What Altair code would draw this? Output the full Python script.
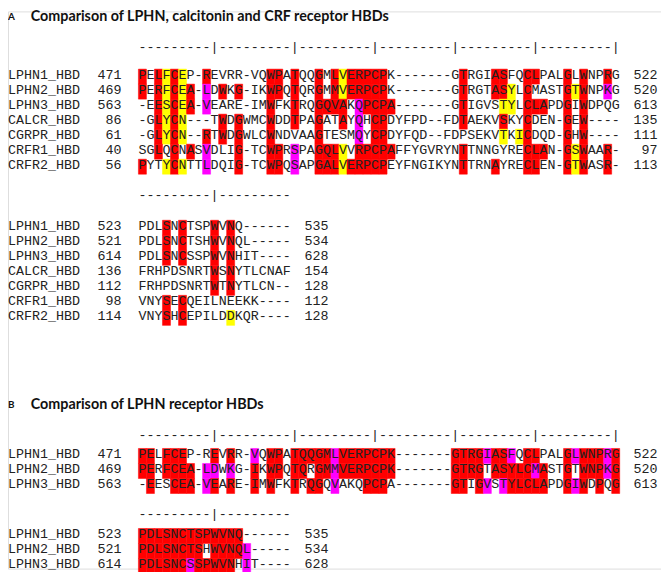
import altair as alt
import pandas as pd

# ---------------- data ----------------
names_all = ["LPHN1_HBD", "LPHN2_HBD", "LPHN3_HBD", "CALCR_HBD", "CGRPR_HBD", "CRFR1_HBD", "CRFR2_HBD"]

# Panel A, block 1 (60 alignment columns)
seq_a1 = [
    "PELFCEP-REVRR-VQWPATQQGMLVERPCPK-------GTRGIASFQCLPALGLWNPRG",
    "PERFCEA-LDWKG-IKWPQTQRGMMVERPCPK-------GTRGTASYLCMASTGTWNPKG",
    "-EESCEA-VEARE-IMWFKTRQGQVAKQPCPA-------GTIGVSTYLCLAPDGIWDPQG",
    "-GLYCN---TWDGWMCWDDTPAGATAYQHCPDYFPD--FDTAEKVSKYCDEN-GEW----",
    "-GLYCN--RTWDGWLCWNDVAAGTESMQYCPDYFQD--FDPSEKVTKICDQD-GHW----",
    "SGLQCNASVDLIG-TCWPRSPAGQLVVRPCPAFFYGVRYNTTNNGYRECLAN-GSWAAR-",
    "PYTYCNTTLDQIG-TCWPQSAPGALVERPCPEYFNGIKYNTTRNAYRECLEN-GTWASR-",
]
# highlight per column: r = red, y = yellow, m = magenta, . = none
hl_a1 = [
    "r.ryry..r." "......rr.r" "..r.ryrrrr" "r........." "r...rr..rr" "...r.r..r.",
    "r.ryryr.m." "r.r...rr.r" "..r.ryrrrr" "r........." "r...rry.r." "...ryr..m.",
    "..ryryr.m." "......r..r" "..rrrr.mrr" "rr........" "r....yy.rr" "r..r.r....",
    "..ryry...." "r.r...r..r" "..r..r.m.r" "r........." "r....r..r." "...r.r....",
    "..ryry..r." "r.r...r..." "..r....m.r" "r........." ".....y.yr." "...r.r....",
    "..r.r.r.m." "..r...rr.m" "..rrry.rrr" "rr........" "r.......rr" "r..ryr..r.",
    "r..yry..m." "..r...rr.m" "..rrryrrrr" "r........." "r...r...rr" "...ryr..r.",
]
start_a1 = [471, 469, 563, 86, 61, 40, 56]
end_a1 = [522, 520, 613, 135, 111, 97, 113]

# Panel A, block 2 (19 alignment columns)
seq_a2 = [
    "PDLSNCTSPWVNQ------",
    "PDLSNCTSHWVNQL-----",
    "PDLSNCSSPWVNHIT----",
    "FRHPDSNRTWSNYTLCNAF",
    "FRHPDSNRTWTNYTLCN--",
    "VNYSECQEILNEEKK----",
    "VNYSHCEPILDDKQR----",
]
hl_a2 = [
    "...r.r...r.r.......",
    "...r.r...r.r.......",
    "...r.r...r.r.......",
    ".........r.r.......",
    ".........r.r.......",
    "...r.r.............",
    "...r.r.....y.......",
]
start_a2 = [523, 521, 614, 136, 112, 98, 114]
end_a2 = [535, 534, 628, 154, 128, 112, 128]

# Panel B (LPHN1-3 only)
names_b = names_all[:3]
seq_b1 = seq_a1[:3]
hl_b1 = [
    "rr.rrr...r" ".r..m.rr.r" "rrrrmrrrrr" "rr.......r" "rrrmrrm.rr" "...rmrrrmr",
    "rr.rrrr.mm" ".m..r.rr.r" "r.rrmrrrrr" "rr.......r" "rrr.rrrrrm" "r..r.rrrmr",
    ".r..rrr.mr" ".r..r.r..r" ".rr.m...rr" "r........r" "r.rm.mrrrr" "r..rmr.r.r",
]
start_b1 = start_a1[:3]
end_b1 = end_a1[:3]
seq_b2 = seq_a2[:3]
hl_b2 = [
    "rrrrrrrrrrrrr......",
    "rrrrrrrr.rrrrm.....",
    "rrrrrrmrrrrr.m.....",
]
start_b2 = start_a2[:3]
end_b2 = end_a2[:3]

ruler_long = "---------|" * 6
ruler_short = "---------|---------"

title_a = "Comparison of LPHN, calcitonin and CRF receptor HBDs"
title_b = "Comparison of LPHN receptor HBDs"

# ---------------- layout ----------------
W, H = 661, 564
CW = 8.12            # px per alignment column
COL0 = 132.0         # plot-x of left edge of first alignment column
PITCH = 15.2

def col_of(plot_x):
    return (plot_x - COL0) / CW - 0.5

X_DOMAIN = [col_of(0), col_of(W)]
NAME_COL = col_of(0)
START_COL = col_of(115)
TITLE_COL = col_of(23)
LETTER_COL = col_of(0)

cells, labels, titles = [], [], []

def add_block(seqs, hls, names, starts, ends, ruler, ruler_y, top, pitch):
    for i, ch in enumerate(ruler):
        cells.append(dict(col=i, y=ruler_y, ch=ch, hl="."))
    n = len(seqs[0])
    for r, (s, h) in enumerate(zip(seqs, hls)):
        y = top + pitch * r
        for i, (ch, c) in enumerate(zip(s, h)):
            cells.append(dict(col=i, y=y, ch=ch, hl=c))
        labels.append(dict(x=NAME_COL, y=y, t=names[r], a="left"))
        labels.append(dict(x=START_COL, y=y, t=str(starts[r]), a="right"))
        labels.append(dict(x=n + 4.2, y=y, t=str(ends[r]), a="right"))

add_block(seq_a1, hl_a1, names_all, start_a1, end_a1, ruler_long, 44, 72, PITCH)
add_block(seq_a2, hl_a2, names_all, start_a2, end_a2, ruler_short, 194, 225, PITCH)
add_block(seq_b1, hl_b1, names_b, start_b1, end_b1, ruler_long, 437, 456, PITCH)
add_block(seq_b2, hl_b2, names_b, start_b2, end_b2, ruler_short, 517, 537, PITCH)

titles.append(dict(x=LETTER_COL, y=14, t="A", k="letter"))
titles.append(dict(x=TITLE_COL, y=14, t=title_a, k="title"))
titles.append(dict(x=LETTER_COL, y=406, t="B", k="letter"))
titles.append(dict(x=TITLE_COL, y=406, t=title_b, k="title"))

cells_df = pd.DataFrame(cells)
hl_df = cells_df[cells_df.hl != "."].copy()
labels_df = pd.DataFrame(labels)
titles_df = pd.DataFrame(titles)

xs = alt.Scale(domain=X_DOMAIN, nice=False, zero=False)
ys = alt.Scale(domain=[8, 8 + H], reverse=True, nice=False, zero=False)
cscale = alt.Scale(domain=["r", "y", "m"], range=["#ff0000", "#ffff00", "#ff00ff"])

MONO = "Liberation Mono"
FS = 13.5
INK = "#222222"

rects = alt.Chart(hl_df).mark_rect(strokeWidth=0.5).transform_calculate(
    x0="datum.col - 0.5", x1="datum.col + 0.5",
    y0="datum.y - 5.6", y1="datum.y + 9.6",
).encode(
    x=alt.X("x0:Q", scale=xs, axis=None), x2="x1:Q",
    y=alt.Y("y0:Q", scale=ys, axis=None), y2="y1:Q",
    color=alt.Color("hl:N", scale=cscale, legend=None),
    stroke=alt.Stroke("hl:N", scale=cscale, legend=None),
)

letters = alt.Chart(cells_df).mark_text(
    font=MONO, fontSize=FS, align="center", baseline="middle", color=INK
).encode(
    x=alt.X("col:Q", scale=xs, axis=None),
    y=alt.Y("y:Q", scale=ys, axis=None),
    text="ch:N",
)

lab_left = alt.Chart(labels_df[labels_df.a == "left"]).mark_text(
    font=MONO, fontSize=FS, align="left", baseline="middle", color=INK
).encode(x=alt.X("x:Q", scale=xs, axis=None), y=alt.Y("y:Q", scale=ys, axis=None), text="t:N")

lab_right = alt.Chart(labels_df[labels_df.a == "right"]).mark_text(
    font=MONO, fontSize=FS, align="right", baseline="middle", color=INK
).encode(x=alt.X("x:Q", scale=xs, axis=None), y=alt.Y("y:Q", scale=ys, axis=None), text="t:N")

t_letter = alt.Chart(titles_df[titles_df.k == "letter"]).mark_text(
    font="Lato", fontSize=10, fontWeight="bold", align="left", baseline="middle", color="#111111"
).encode(x=alt.X("x:Q", scale=xs, axis=None), y=alt.Y("y:Q", scale=ys, axis=None), text="t:N")

t_title = alt.Chart(titles_df[titles_df.k == "title"]).mark_text(
    font="Lato", fontSize=14.5, fontWeight="bold", align="left", baseline="middle", color="#111111"
).encode(x=alt.X("x:Q", scale=xs, axis=None), y=alt.Y("y:Q", scale=ys, axis=None), text="t:N")

chart = alt.layer(rects, letters, lab_left, lab_right, t_letter, t_title).properties(
    width=W, height=H, padding=0, autosize="none"
).configure_view(stroke=None).configure(background="white")

chart.save("out.html", embed_options={"renderer": "svg", "actions": False})
